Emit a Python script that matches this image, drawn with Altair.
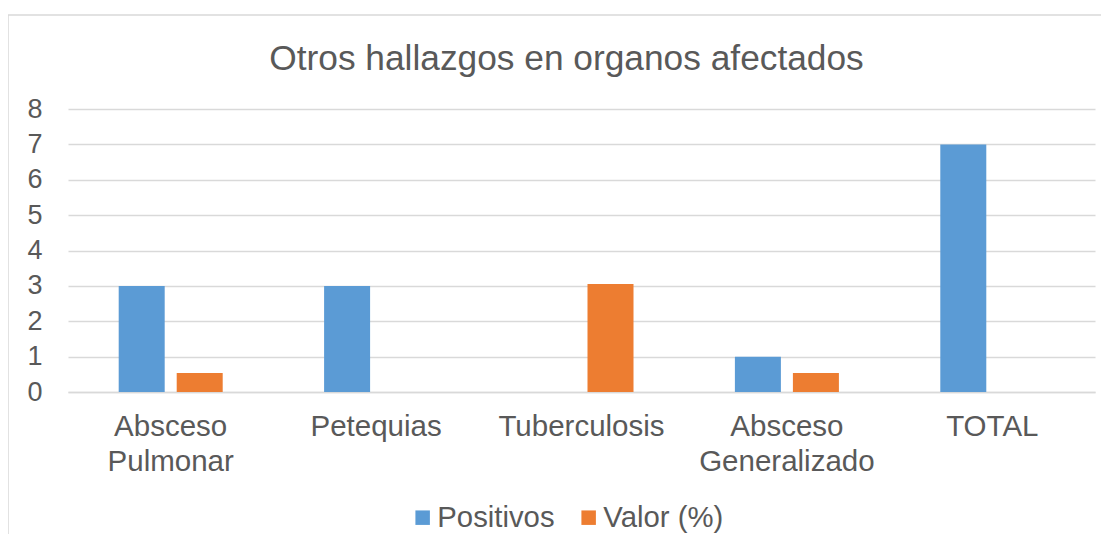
import altair as alt
import pandas as pd

categories = ["Absceso Pulmonar", "Petequias", "Tuberculosis", "Absceso Generalizado", "TOTAL"]
positivos = [3, 3, 0, 1, 7]
valor = [0.54, 0, 3.05, 0.54, 0]
series = ["Positivos", "Valor (%)"]
colors = ["#5b9bd5", "#ed7d31"]

rows = []
for c, p, v in zip(categories, positivos, valor):
    rows.append({"cat": c, "serie": series[0], "val": p})
    rows.append({"cat": c, "serie": series[1], "val": v})
df = pd.DataFrame(rows)

W, H = 1027, 283
FONT = "Liberation Sans"
GREY = "#595959"

bars = alt.Chart(df).mark_bar().encode(
    x=alt.X("cat:N", sort=categories, title=None,
            scale=alt.Scale(paddingInner=0, paddingOuter=0),
            axis=alt.Axis(labelAngle=0, labelExpr="split(datum.label, ' ')",
                          labelFontSize=29.5, labelColor=GREY, labelFont=FONT,
                          labelLineHeight=35, labelPadding=20, ticks=False,
                          domainColor="#d9d9d9", domainWidth=1.5, labelBaseline="top")),
    xOffset=alt.XOffset("serie:N", sort=series,
                        scale=alt.Scale(paddingInner=0.207, paddingOuter=0.874)),
    y=alt.Y("val:Q", title=None,
            scale=alt.Scale(domain=[0, 8], nice=False),
            axis=alt.Axis(values=list(range(9)), labelFontSize=27, labelColor=GREY,
                          labelFont=FONT, labelPadding=26, ticks=False, domain=False,
                          gridColor="#d9d9d9", gridWidth=1.5)),
    color=alt.Color("serie:N", sort=series,
                    scale=alt.Scale(domain=series, range=colors),
                    legend=alt.Legend(title=None, orient="none", legendX=340, legendY=394,
                                      direction="horizontal", symbolType="square",
                                      symbolSize=210, symbolStrokeWidth=0,
                                      labelFontSize=29.3, labelColor=GREY, labelFont=FONT,
                                      columnPadding=19, padding=0, symbolOffset=0,
                                      labelOffset=0)),
)

frame = alt.Chart(pd.DataFrame({"k": [0]})).mark_rect(
    fill=None, stroke="#d9d9d9", strokeWidth=1.5
).encode(
    x=alt.value(-60), x2=alt.value(W + 60),
    y=alt.value(-94), y2=alt.value(H + 220),
)

chart = alt.layer(frame, bars).properties(
    width=W, height=H,
    title=alt.TitleParams("Otros hallazgos en organos afectados", fontSize=35.3,
                          font=FONT, color=GREY, fontWeight="normal",
                          anchor="middle", frame="group", offset=0, dy=63, dx=-15),
    padding={"left": 60, "top": 101, "right": 6, "bottom": 142},
    autosize=alt.AutoSizeParams(type="none"),
).configure_view(stroke=None)

chart.save("out.html", embed_options={"renderer": "svg", "actions": False})
